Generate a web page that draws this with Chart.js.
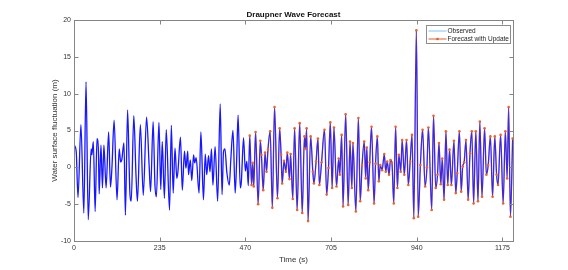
<!DOCTYPE html>
<html>
<head>
<meta charset="utf-8">
<script src="https://cdn.jsdelivr.net/npm/chart.js@4.4.1/dist/chart.umd.min.js"></script>
<style>
html,body{margin:0;padding:0;background:#fff}
#wrap{width:568px;height:270px}
</style>
</head>
<body>
<div id="wrap"><canvas id="wave" width="568" height="270"></canvas></div>
<script>
// surface elevation (peaks / troughs), seconds and metres
const obsTime = [1,6,11,19,27,33,39,47,49,53,58,63,67,69,74,78,82,88,95,100,104,110,118,124,128,131,137,141,147,153,157,164,170,174,182,190,199,206,210,217,222,226,233,
  238,242,248,253,262,267,272,277,282,285,292,297,303,307,312,314,319,323,328,331,335,343,348,355,360,364,369,373,377,381,387,394,401,406,410,414,419,426,430,436,442,446,450,456,459,465,470,474,478,
  482,487,490,493,498,505,511,514,519,524,528,532,538,544,550,558,564,568,571,576,581,585,591,594,600,605,612,619,626,632,635,638,642,649,655,658,664,669,673,679,687,693,698,703,708,713,720,
  726,729,734,738,745,752,757,762,765,773,780,785,790,796,800,803,807,811,816,823,827,832,836,840,845,851,855,859,864,868,872,877,882,887,891,896,900,906,912,917,922,927,932,939,944,950,956,
  963,968,972,981,986,992,997,1001,1006,1010,1015,1020,1025,1030,1035,1042,1047,1051,1057,1062,1066,1070,1075,1081,1086,1091,1096,1102,1108,1113,1119,1126,1131,1136,1142,1148,1154,1159,1163,1170,1177,1183,1188,1192,1197,1203];
const obsWave = [3.0,2.2,-4.1,5.8,-6.2,11.6,-7.1,2.5,1.7,3.5,-6.0,3.9,2.2,-3.6,3.0,-2.8,3.0,-2.8,4.8,-2.7,-0.1,6.4,-4.4,2.5,0.7,1.0,3.3,-6.5,7.8,-3.1,-4.6,7.0,-1.0,-4.6,5.8,-3.8,6.8,0.3,-3.3,6.2,-2.4,-4.0,6.1,
  -3.0,3.5,-4.2,5.1,-5.8,5.7,-3.5,2.6,-1.5,-0.6,4.1,-3.1,2.2,-0.1,2.2,-1.0,1.0,-1.8,1.7,0.6,1.3,-3.5,4.8,-4.4,1.8,-1.0,1.6,-0.6,2.5,-2.4,2.8,-4.6,8.6,-3.7,2.1,2.5,-0.6,-2.4,1.0,5.0,-3.5,0.8,7.1,-2.8,-1.9,4.0,-0.5,0.8,-2.5,
  4.3,-2.4,0.6,-2.6,4.8,-5.0,3.6,1.7,-3.1,2.0,-0.6,2.4,4.9,-5.5,8.2,-4.2,5.3,1.7,-2.2,0.9,-0.6,2.0,-1.6,1.8,-4.3,5.3,-5.8,6.0,-6.2,4.2,2.5,5.3,-7.3,4.2,-0.6,-2.2,0.8,3.9,-2.4,0.7,5.1,-3.7,-0.1,6.1,-2.8,5.4,-2.6,
  1.2,-1.0,4.4,-5.3,7.2,-5.1,3.5,-2.8,3.3,-6.0,6.7,-4.6,0.3,3.5,-1.5,2.7,-3.1,0.7,5.5,-4.9,0.5,4.2,-1.9,0.3,-0.4,1.8,-0.6,0.8,-1.0,1.0,0.6,-4.9,5.5,-2.8,1.7,-0.6,3.7,-1.0,3.7,-2.4,0.8,4.4,-6.9,18.6,-6.7,0.3,5.1,
  -2.6,0.0,5.4,-5.8,7.0,-2.8,-1.0,3.3,-2.3,1.2,-4.4,4.9,-2.4,2.4,-2.4,3.6,-3.5,-0.8,4.9,-3.3,0.1,0.7,3.7,-4.4,1.9,4.9,-4.9,4.9,-4.6,6.2,-4.0,5.3,-1.0,0.3,4.2,-4.0,4.2,-1.0,-2.4,4.4,-4.9,4.9,-1.5,8.2,-6.7,3.9];
const forecastStart = 482;
const xTicks = [0,235,470,705,940,1175];
const yTicks = [-10,-5,0,5,10,15,20];
const labels = ['Observed','Forecast with Update'];

const FONT = "'Liberation Sans', Arial, Helvetica, sans-serif";
const obs = obsTime.map((t,i)=>({x:t,y:obsWave[i]}));
const fc = obs.filter(p=>p.x>=forecastStart);

function line(ctx,x1,y1,x2,y2){ctx.beginPath();ctx.moveTo(x1,y1);ctx.lineTo(x2,y2);ctx.stroke()}

// matlab style box, inward ticks and framed legend
const frame = {
  id:'frame',
  afterDraw(chart){
    const {ctx, chartArea:a, scales:{x,y}} = chart;
    ctx.save();
    ctx.strokeStyle='#858585'; ctx.lineWidth=1;
    const L=Math.round(a.left)+0.5, R=Math.round(a.right)+0.5, T=Math.round(a.top)+0.5, B=Math.round(a.bottom)+0.5;
    ctx.strokeRect(L,T,R-L,B-T);
    xTicks.forEach(v=>{const px=Math.round(x.getPixelForValue(v))+0.5; line(ctx,px,B,px,B-4); line(ctx,px,T,px,T+4)});
    yTicks.forEach(v=>{const py=Math.round(y.getPixelForValue(v))+0.5; line(ctx,L,py,L+4,py); line(ctx,R,py,R-4,py)});
    // legend
    const lx=R-87, ly=T+5, lw=84, lh=18;
    ctx.fillStyle='#fff'; ctx.fillRect(lx,ly,lw,lh);
    ctx.strokeStyle='#8c8c8c'; ctx.strokeRect(lx,ly,lw,lh);
    const rows=[ly+5.5, ly+13.5];
    ctx.lineWidth=1;
    ctx.strokeStyle='#7cc4ee'; line(ctx,lx+2,rows[0],lx+20,rows[0]);
    ctx.strokeStyle='#e0602a'; line(ctx,lx+2,rows[1],lx+20,rows[1]);
    ctx.fillStyle='#e0602a'; ctx.beginPath(); ctx.arc(lx+11,rows[1],1.3,0,Math.PI*2); ctx.fill();
    ctx.fillStyle='#222'; ctx.font='6.5px '+FONT; ctx.textBaseline='middle'; ctx.textAlign='left';
    labels.forEach((s,i)=>ctx.fillText(s,lx+21,rows[i]+0.5));
    ctx.restore();
  }
};

new Chart(document.getElementById('wave'),{
  type:'line',
  data:{datasets:[
    {label:labels[1],data:fc,borderColor:'rgba(224,96,42,0.45)',borderWidth:0.6,pointRadius:1.3,pointBackgroundColor:'#e8652a',pointBorderWidth:0,cubicInterpolationMode:'monotone'},
    {label:labels[0],data:obs,borderColor:'#1616ff',borderWidth:1.3,pointRadius:0,cubicInterpolationMode:'monotone'}
  ]},
  options:{
    responsive:false,animation:false,devicePixelRatio:1,
    layout:{padding:{left:0,right:55,top:0,bottom:0}},
    plugins:{
      legend:{display:false},tooltip:{enabled:false},
      title:{display:true,text:'Draupner Wave Forecast',fullSize:false,color:'#111',font:{family:FONT,size:8,weight:'bold'},padding:{top:10,bottom:0.4}}
    },
    scales:{
      x:{type:'linear',min:0,max:1204,
        afterBuildTicks:s=>{s.ticks=xTicks.map(v=>({value:v}))},
        afterFit:s=>{s.height=29},
        grid:{display:false,drawTicks:false},border:{display:false},
        ticks:{color:'#333',font:{family:FONT,size:7},padding:3,maxRotation:0,autoSkip:false,callback:v=>String(v)},
        title:{display:true,text:'Time (s)',color:'#333',font:{family:FONT,size:8},padding:{top:0,bottom:5.7}}},
      y:{min:-10,max:20,
        afterBuildTicks:s=>{s.ticks=yTicks.map(v=>({value:v}))},
        afterFit:s=>{s.width=74},
        grid:{display:false,drawTicks:false},border:{display:false},
        ticks:{color:'#333',font:{family:FONT,size:7},padding:3,callback:v=>String(v)},
        title:{display:true,text:'Water surface fluctuation (m)',color:'#333',font:{family:FONT,size:8},padding:{top:50,bottom:0}}}
    }
  },
  plugins:[frame]
});
</script>
</body>
</html>
